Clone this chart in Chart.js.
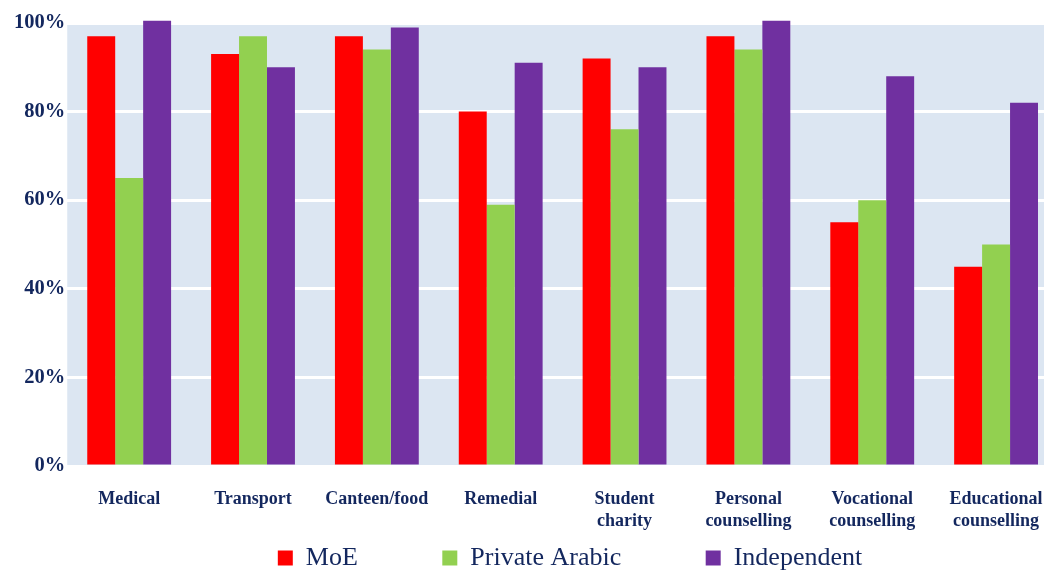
<!DOCTYPE html>
<html>
<head>
<meta charset="utf-8">
<script src="https://cdn.jsdelivr.net/npm/chart.js@4"></script>
<style>
  html, body { margin: 0; padding: 0; background: #fff; overflow: hidden; }
  #wrap { width: 1128px; height: 571px; }
</style>
</head>
<body>
<div id="wrap"><canvas id="canvasChart"></canvas></div>
<script>
const categories = ['Medical', 'Transport', 'Canteen/food', 'Remedial', ['Student', 'charity'],
  ['Personal', 'counselling'], ['Vocational', 'counselling'], ['Educational', 'counselling']]
const moe = [97, 93, 97, 80, 92, 97, 55, 45]
const privateArabic = [65, 97, 94, 59, 76, 94, 60, 50]
const independent = [100.5, 90, 99, 91, 90, 100.5, 88, 82]
const yTicks = [0, 20, 40, 60, 80, 100]

const navy = '#13275e'

const plotBg = {
  id: 'plotBg',
  beforeDraw: (chart) => {
    const { ctx, chartArea } = chart
    ctx.save()
    ctx.fillStyle = '#dce6f2'
    ctx.fillRect(chartArea.left, chartArea.top, chartArea.width, chartArea.height)
    ctx.restore()
  },
}

new Chart(document.getElementById('canvasChart'), {
  type: 'bar',
  data: {
    labels: categories,
    datasets: [
      { label: 'MoE', data: moe, backgroundColor: '#ff0000' },
      { label: 'Private Arabic', data: privateArabic, backgroundColor: '#92d050' },
      { label: 'Independent', data: independent, backgroundColor: '#7030a0' },
    ].map((d) => ({ ...d, clip: false, categoryPercentage: 0.677, barPercentage: 1 })),
  },
  options: {
    responsive: true,
    maintainAspectRatio: false,
    animation: false,
    layout: { padding: { top: 23, bottom: -10, left: 12 } },
    scales: {
      x: {
        grid: { display: false },
        border: { display: false },
        ticks: {
          color: navy,
          font: { family: 'Liberation Serif', weight: 'bold', size: 18 },
          padding: 15,
          maxRotation: 0,
          autoSkip: false,
        },
        afterFit: (axis) => {
          axis.height = 79
        },
      },
      y: {
        min: 0,
        max: 100,
        afterBuildTicks: (axis) => {
          axis.ticks = yTicks.map((v) => ({ value: v }))
        },
        grid: { color: '#ffffff', lineWidth: 3, drawTicks: false },
        border: { display: false },
        ticks: {
          color: navy,
          font: { family: 'Liberation Serif', weight: 'bold', size: 20.5 },
          padding: 2,
          callback: (v) => v + '%',
        },
      },
      yRight: {
        position: 'right',
        display: true,
        grid: { display: false },
        border: { display: false },
        ticks: { display: false },
        afterFit: (axis) => {
          axis.width = 70
        },
      },
    },
    plugins: {
      legend: {
        position: 'bottom',
        labels: {
          color: navy,
          font: { family: 'Liberation Serif', size: 26 },
          boxWidth: 15,
          boxHeight: 15,
          padding: 0,
          generateLabels: (chart) => {
            const items = Chart.defaults.plugins.legend.labels.generateLabels(chart)
            items.forEach((it, i) => {
              if (i < items.length - 1) it.text = it.text + ' '.repeat(13)
            })
            return items
          },
        },
      },
      tooltip: { enabled: false },
    },
  },
  plugins: [plotBg],
})
</script>
</body>
</html>
